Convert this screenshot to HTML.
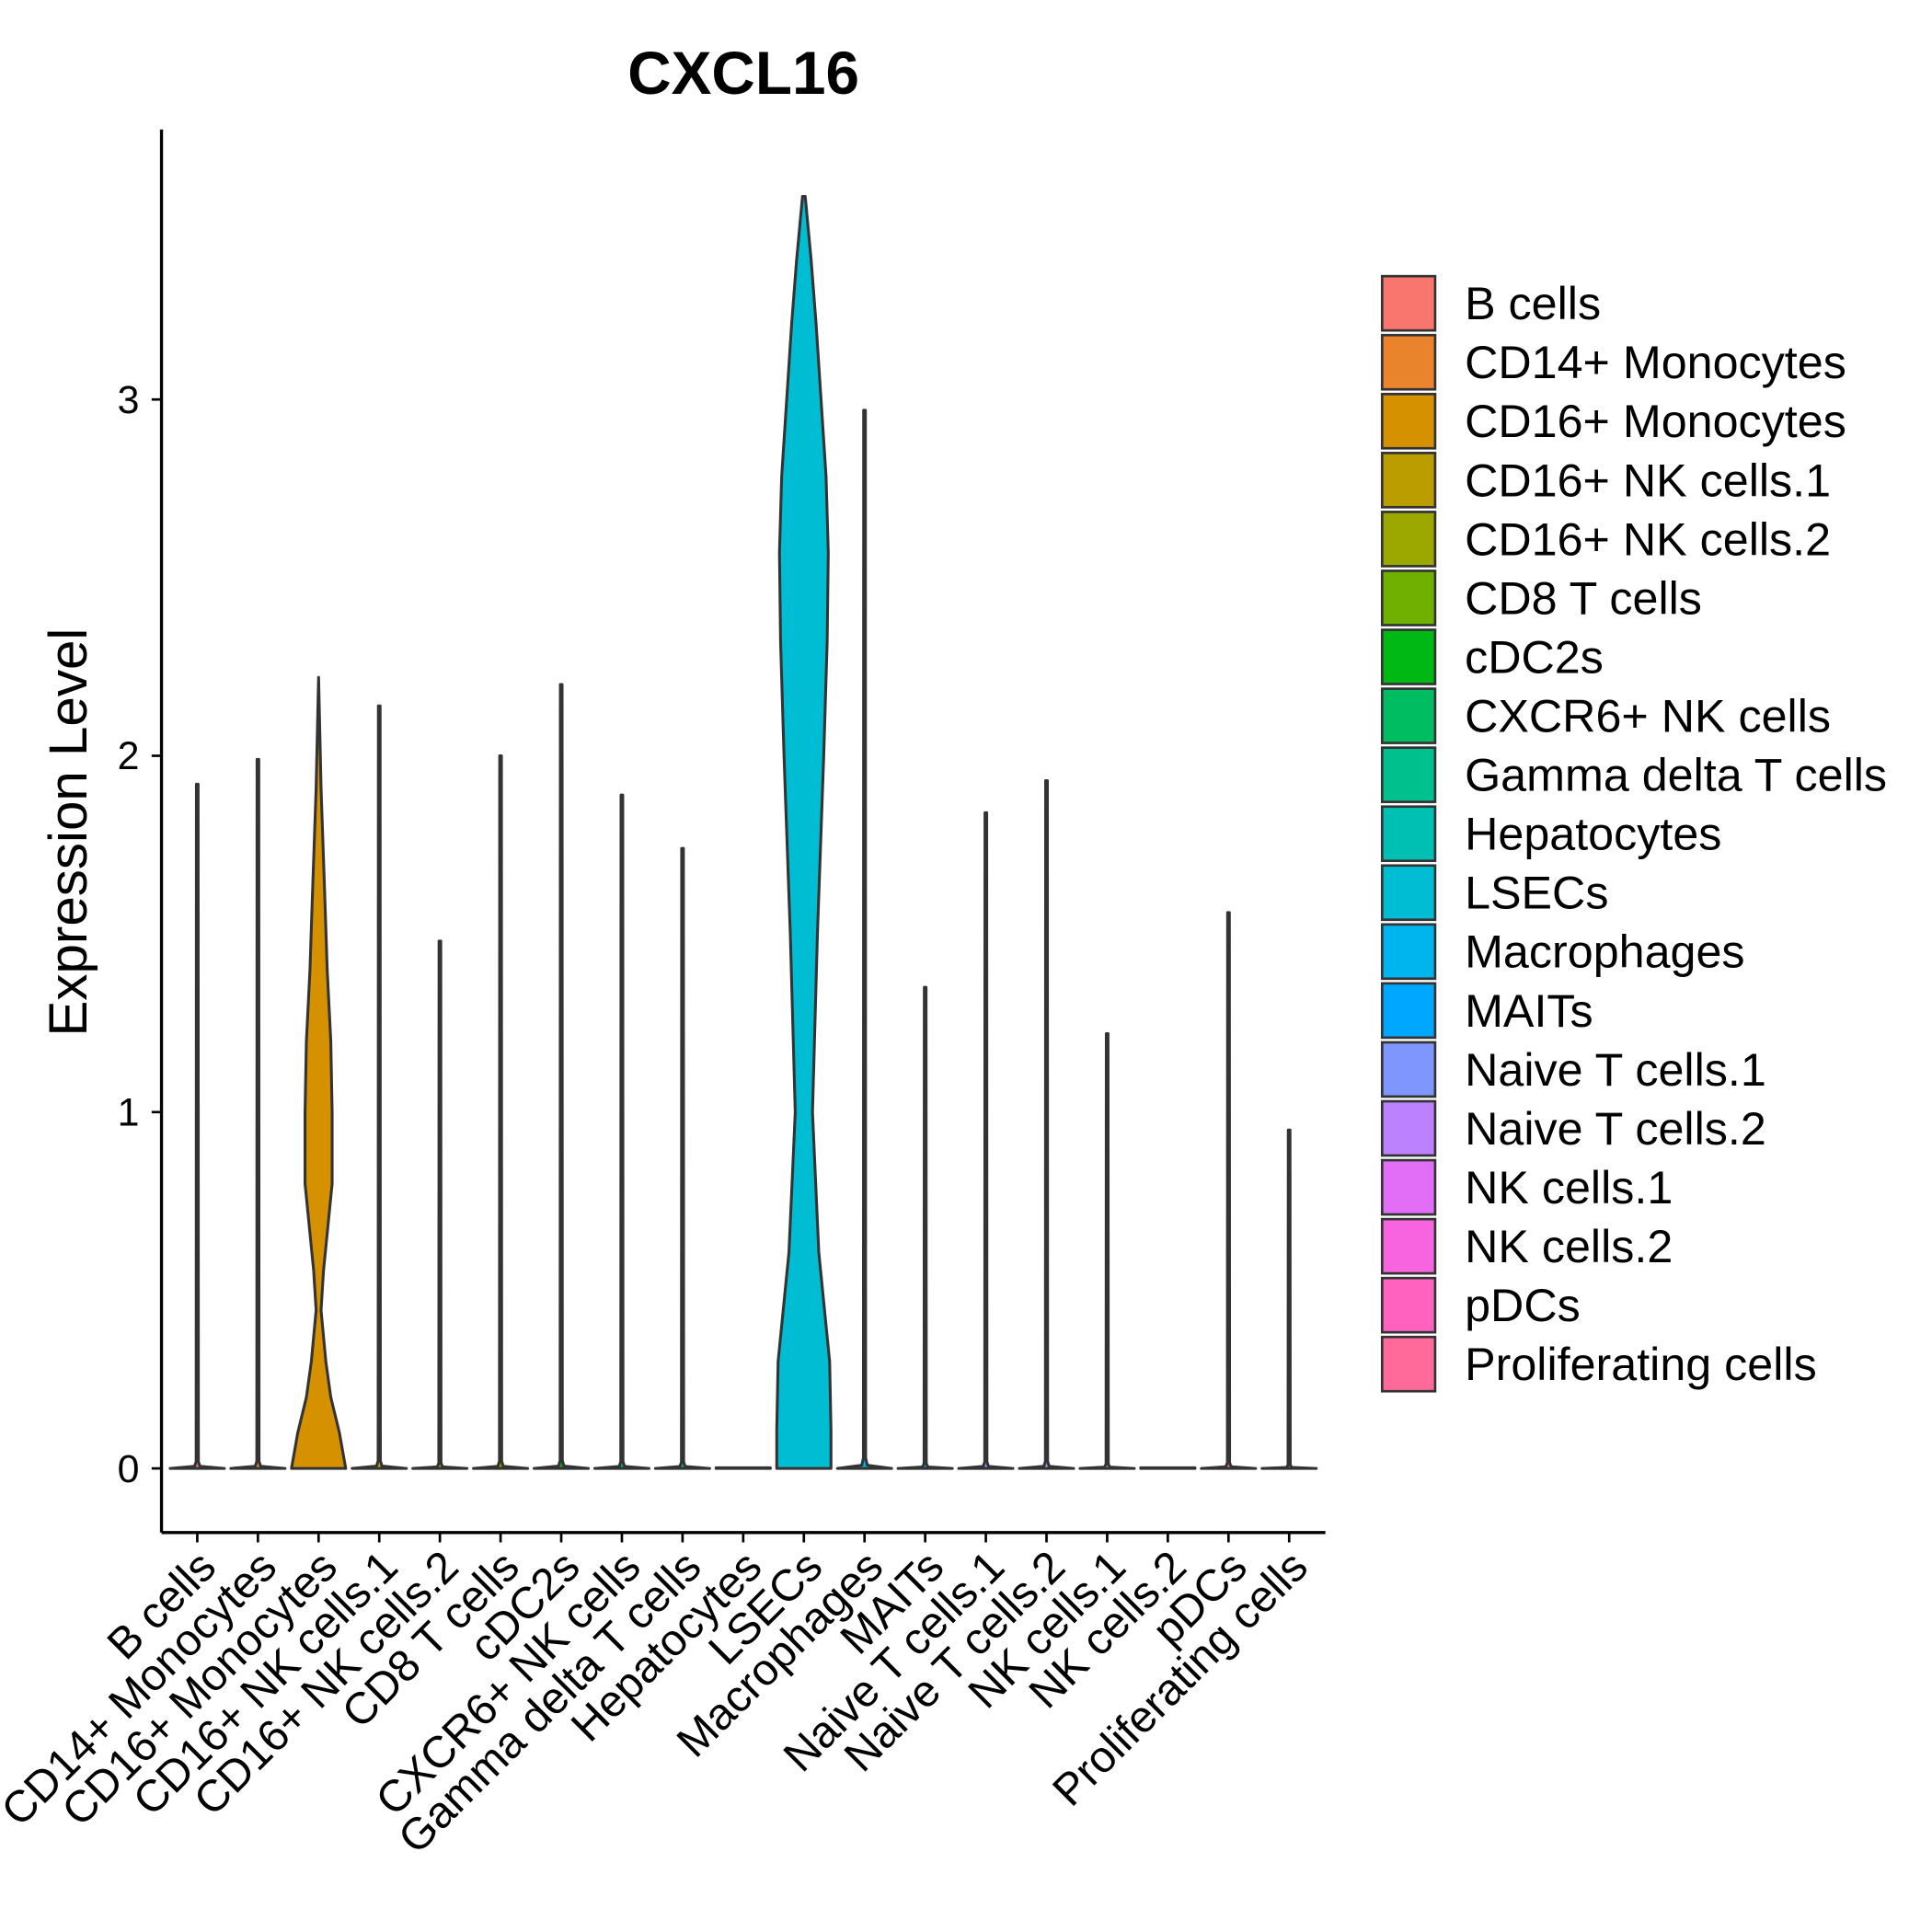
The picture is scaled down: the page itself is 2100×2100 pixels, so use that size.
<!DOCTYPE html>
<html><head><meta charset="utf-8"><style>
html,body{margin:0;padding:0;background:#fff}
svg{display:block}
text{font-family:"Liberation Sans",Arial,sans-serif;fill:#000}
</style></head><body>
<svg id="chart" width="2100" height="2100" viewBox="0 0 1567 1567" xmlns="http://www.w3.org/2000/svg">
<text x="603" y="76" font-size="49" font-weight="bold" text-anchor="middle">CXCL16</text>
<text transform="translate(70,675) rotate(-90)" font-size="43.5" text-anchor="middle">Expression Level</text>
<g id="plot"></g>
<g id="legend"></g>
</svg>
<script>
const categories=["B cells","CD14+ Monocytes","CD16+ Monocytes","CD16+ NK cells.1","CD16+ NK cells.2","CD8 T cells","cDC2s","CXCR6+ NK cells","Gamma delta T cells","Hepatocytes","LSECs","Macrophages","MAITs","Naive T cells.1","Naive T cells.2","NK cells.1","NK cells.2","pDCs","Proliferating cells"];
const maxValues=[1.92,1.99,2.22,2.14,1.48,2.0,2.2,1.89,1.74,0,3.57,2.97,1.35,1.84,1.93,1.22,0,1.56,0.95];
const colors=["#F8766D","#E9842C","#D69100","#BC9D00","#9CA700","#6FB000","#00B813","#00BD61","#00C08E","#00C0B4","#00BDD4","#00B5EE","#00A7FF","#7F96FF","#BC81FF","#E26EF7","#F863DF","#FF62BF","#FF6A9A"];
const yTicks=[0,1,2,3];
const monoLevels=[0,0.045,0.09,0.135,0.2,0.25,0.36,0.45,0.54,0.63,0.72,0.86,1];
const monoWidths=[1,0.77,0.45,0.27,0.09,0.18,0.5,0.5,0.45,0.32,0.23,0.09,0];
const lsecLevels=[0,0.03,0.084,0.17,0.28,0.42,0.56,0.65,0.72,0.78,0.9,0.95,1];
const lsecWidths=[1,1,0.95,0.55,0.32,0.5,0.73,0.86,0.9,0.82,0.45,0.27,0.05];
const NS="http://www.w3.org/2000/svg";
const x0=131,x1=1075,yTop=105,yBot=1243;
const xs=i=>160+i*49.2;
const ys=v=>1191-v*289;
const plot=document.getElementById('plot');
function el(t,a,p){const e=document.createElementNS(NS,t);for(const k in a)e.setAttribute(k,a[k]);(p||plot).appendChild(e);return e;}
categories.forEach((c,i)=>{
  const cx=xs(i),m=maxValues[i],hw=22;
  let lv,wd;
  if(i===2){lv=monoLevels;wd=monoWidths;}
  else if(i===10){lv=lsecLevels;wd=lsecWidths;}
  else{lv=[0,0.003,0.01,1];wd=[1,0.1,0.04,0.03];}
  let pts=[];
  if(m===0){pts=[[cx-hw,ys(0)],[cx+hw,ys(0)],[cx+hw,ys(0)-0.5],[cx-hw,ys(0)-0.5]];}
  else{
    const L=lv.map((l,k)=>[cx+wd[k]*hw,ys(l*m)]);
    const R=lv.map((l,k)=>[cx-wd[k]*hw,ys(l*m)]).reverse();
    pts=L.concat(R);
  }
  const poly=el('polygon',{points:pts.map(p=>p[0].toFixed(1)+','+p[1].toFixed(1)).join(' '),fill:colors[i],stroke:'#333','stroke-width':2.3,'stroke-linejoin':'round'});
  
  
  const tk=el('line',{x1:cx,x2:cx,y1:yBot,y2:yBot+8,stroke:'#000','stroke-width':2});
  
  
  const t=el('text',{transform:`translate(${cx+17},${yBot+30}) rotate(-45)`,'font-size':36,'text-anchor':'end'});
  t.textContent=c;
  
  
});
yTicks.forEach(v=>{
  const tk=el('line',{x1:x0-8,x2:x0,y1:ys(v),y2:ys(v),stroke:'#000','stroke-width':2});
  
  
  const t=el('text',{x:x0-18,y:ys(v)+11,'font-size':32,'text-anchor':'end'});
  t.textContent=v;
  
  
});
const ya=el('line',{x1:x0,x2:x0,y1:yTop,y2:yBot,stroke:'#000','stroke-width':2.5});


const xa=el('line',{x1:x0,x2:x1,y1:yBot,y2:yBot,stroke:'#000','stroke-width':2.5});


const lg=document.getElementById('legend');
categories.forEach((c,i)=>{
  const y=224+i*47.8;
  const r=el('rect',{x:1121,y:y,width:43,height:44,fill:colors[i],stroke:'#333','stroke-width':2},lg);
  
  
  const t=el('text',{x:1188,y:y+35,'font-size':37.5},lg);
  t.textContent=c;
  
  
});
</script>
</body></html>
